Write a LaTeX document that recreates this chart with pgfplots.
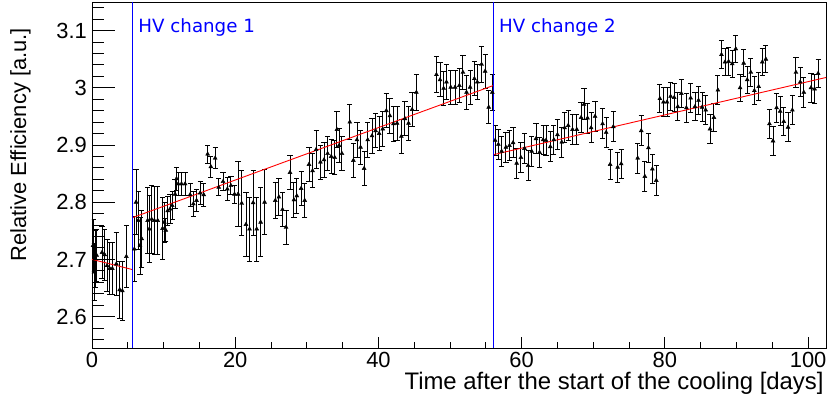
\documentclass[border=0pt]{standalone}
\usepackage{pgfplots}
\usepackage{pgfplotstable}
\pgfplotsset{compat=1.18}
\usepackage{fontspec}
\setmainfont{Liberation Sans}
\newfontfamily\dejavu{DejaVu Sans}

\pgfplotstableread{
x y e
0.14 2.724 0.045
0.28 2.678 0.050
0.45 2.701 0.050
0.65 2.707 0.045
1.40 2.712 0.045
1.77 2.708 0.045
2.10 2.689 0.045
2.47 2.684 0.045
2.84 2.684 0.045
3.40 2.692 0.055
3.87 2.647 0.050
4.24 2.645 0.051
4.80 2.705 0.055
5.91 2.718 0.057
6.15 2.800 0.057
6.47 2.768 0.050
6.70 2.724 0.050
6.94 2.736 0.050
7.77 2.768 0.058
8.00 2.753 0.058
8.33 2.770 0.060
8.71 2.768 0.060
9.17 2.768 0.060
9.85 2.754 0.055
10.10 2.765 0.035
10.30 2.751 0.020
10.57 2.785 0.025
10.90 2.788 0.025
11.20 2.794 0.025
11.60 2.814 0.025
11.80 2.841 0.020
12.05 2.832 0.020
12.50 2.832 0.020
13.00 2.832 0.020
13.70 2.813 0.020
14.15 2.797 0.022
14.60 2.803 0.020
15.10 2.816 0.020
15.60 2.813 0.020
16.15 2.884 0.016
16.60 2.862 0.018
17.20 2.877 0.018
17.70 2.826 0.015
18.30 2.836 0.016
18.90 2.823 0.020
19.40 2.829 0.016
19.90 2.814 0.016
20.40 2.814 0.057
20.90 2.798 0.057
21.50 2.761 0.056
22.00 2.753 0.056
22.50 2.799 0.057
23.00 2.753 0.056
23.55 2.765 0.060
24.10 2.800 0.057
25.60 2.803 0.031
26.10 2.809 0.033
26.60 2.787 0.030
27.10 2.756 0.030
27.65 2.852 0.030
28.20 2.804 0.030
28.60 2.811 0.030
29.20 2.824 0.030
29.70 2.803 0.030
30.30 2.866 0.030
30.80 2.855 0.030
31.30 2.892 0.033
31.90 2.870 0.030
32.40 2.874 0.030
32.90 2.885 0.030
33.40 2.880 0.030
33.90 2.878 0.030
34.20 2.927 0.031
34.50 2.899 0.030
34.90 2.885 0.030
36.00 2.940 0.030
36.50 2.873 0.030
37.00 2.909 0.030
37.50 2.896 0.030
38.00 2.859 0.030
38.50 2.909 0.030
39.10 2.916 0.030
39.60 2.925 0.030
40.10 2.920 0.030
40.60 2.928 0.030
41.10 2.960 0.030
41.60 2.951 0.030
42.10 2.937 0.030
42.60 2.938 0.030
43.20 2.915 0.030
43.70 2.946 0.030
44.20 2.938 0.030
44.70 2.962 0.030
45.30 2.992 0.032
48.10 3.023 0.031
48.60 3.014 0.030
49.10 2.999 0.030
49.50 3.010 0.030
50.10 3.001 0.030
50.70 3.001 0.030
51.30 3.004 0.030
51.80 3.027 0.030
52.30 2.992 0.030
52.80 3.001 0.030
53.40 3.016 0.030
53.80 3.010 0.030
54.40 3.041 0.031
54.90 3.029 0.030
55.40 2.966 0.029
55.90 2.992 0.032
56.30 2.908 0.026
56.75 2.901 0.026
57.20 2.889 0.026
57.80 2.896 0.026
58.30 2.899 0.026
58.80 2.904 0.026
59.30 2.868 0.026
59.90 2.878 0.026
60.40 2.894 0.026
60.90 2.864 0.026
61.40 2.889 0.026
62.00 2.911 0.026
62.50 2.887 0.026
63.00 2.909 0.026
63.40 2.908 0.026
64.00 2.897 0.026
64.50 2.909 0.026
65.00 2.918 0.026
65.60 2.905 0.026
66.00 2.930 0.026
66.50 2.934 0.026
67.10 2.927 0.026
67.70 2.927 0.026
68.30 2.948 0.026
68.70 2.971 0.027
69.20 2.947 0.026
69.70 2.930 0.026
70.25 2.950 0.026
71.30 2.937 0.026
71.80 2.922 0.026
72.35 2.866 0.026
72.80 2.932 0.026
73.40 2.861 0.026
73.90 2.867 0.026
76.20 2.877 0.026
76.70 2.925 0.026
77.20 2.845 0.026
77.70 2.895 0.026
78.25 2.858 0.026
78.80 2.838 0.026
79.30 2.981 0.025
79.80 2.975 0.025
80.30 2.975 0.025
80.80 2.985 0.025
81.30 2.983 0.025
81.80 2.967 0.025
82.30 2.990 0.025
83.00 2.965 0.025
83.60 2.982 0.025
84.20 2.967 0.025
84.70 2.978 0.025
85.20 2.966 0.025
85.70 2.961 0.025
86.30 2.928 0.025
86.85 2.948 0.025
87.40 2.996 0.025
87.90 3.058 0.024
88.40 3.045 0.024
88.90 3.046 0.024
89.40 3.042 0.024
89.90 3.068 0.024
90.50 3.000 0.024
91.00 3.043 0.024
91.50 3.014 0.024
92.00 3.027 0.024
92.50 2.995 0.024
93.10 3.002 0.024
93.60 3.045 0.024
94.10 3.050 0.024
94.60 2.937 0.025
95.10 2.907 0.025
95.60 2.965 0.025
96.10 2.959 0.025
96.60 2.941 0.025
97.20 2.931 0.025
97.80 2.961 0.025
98.30 3.027 0.026
98.90 3.010 0.026
99.40 2.992 0.026
100.40 3.000 0.025
100.90 2.998 0.025
101.40 3.025 0.025
}\data

\begin{document}
\begin{tikzpicture}
\begin{axis}[
  at={(0,0)}, anchor=south west, scale only axis,
  width=734bp, height=346bp,
  xmin=0, xmax=102.5, ymin=2.545, ymax=3.15,
  axis line style={line width=0.9bp},
  xtick=\empty,
  ytick={2.6,2.7,2.8,2.9,3.0,3.1},
  minor ytick={2.56,2.58,2.62,2.64,2.66,2.68,2.72,2.74,2.76,2.78,2.82,2.84,2.86,2.88,2.92,2.94,2.96,2.98,3.02,3.04,3.06,3.08,3.12,3.14},
  ytick pos=left, tick align=inside,
  major tick length=23bp, minor tick length=12bp,
  tick style={line width=0.9bp, black},
  /pgf/number format/assume math mode=true,
  yticklabel style={font=\fontsize{22}{22}\selectfont, inner sep=0pt, xshift=-5bp},
  ylabel={Relative Efficiency [a.u.]},
  ylabel style={at={(axis description cs:-0.0899,0.925)}, anchor=base east, inner sep=0pt, font=\fontsize{22}{22}\selectfont},
]
\addplot[only marks, mark=triangle*, mark size=2.3bp, black,
  error bars/.cd, y dir=both, y explicit,
  error bar style={line width=0.9bp, black},
  error mark options={rotate=90, black, line width=0.9bp, mark size=2.6bp}]
  table[x=x, y=y, y error=e] {\data};
\addplot[red, line width=0.9bp] coordinates {(0,2.700) (5.68,2.682)};
\addplot[red, line width=0.9bp] coordinates {(5.68,2.773) (56.05,3.004)};
\addplot[red, line width=0.9bp] coordinates {(56.05,2.883) (102.5,3.018)};
\addplot[blue, line width=0.9bp] coordinates {(5.68,2.545) (5.68,3.15)};
\addplot[blue, line width=0.9bp] coordinates {(56.05,2.545) (56.05,3.15)};
\node[anchor=base west, inner sep=0pt, text=blue, font=\dejavu\fontsize{18.3}{18}\selectfont] at (axis cs:6.46,3.096) {HV change 1};
\node[anchor=base west, inner sep=0pt, text=blue, font=\dejavu\fontsize{18.3}{18}\selectfont] at (axis cs:56.83,3.096) {HV change 2};
\end{axis}
\begin{axis}[
  at={(0,0)}, anchor=south west, scale only axis,
  width=734bp, height=346bp,
  xmin=0, xmax=102.5, ymin=2.545, ymax=3.15,
  axis line style={draw=none},
  ytick=\empty,
  xtick={0,20,40,60,80,100},
  minor xtick={5,10,15,25,30,35,45,50,55,65,70,75,85,90,95},
  xtick pos=left, tick align=inside,
  major tick length=11bp, minor tick length=6bp,
  tick style={line width=0.9bp, black},
  /pgf/number format/assume math mode=true,
  xticklabel style={font=\fontsize{22}{22}\selectfont, inner sep=0pt, yshift=-4bp},
  xlabel={Time after the start of the cooling [days]},
  xlabel style={at={(axis description cs:0.997,-0.1185)}, anchor=base east, inner sep=0pt, font=\fontsize{24}{24}\selectfont},
]
\end{axis}
\pgfresetboundingbox
\path[use as bounding box] (-92bp,-50bp) rectangle (735bp,348bp);
\end{tikzpicture}
\end{document}
